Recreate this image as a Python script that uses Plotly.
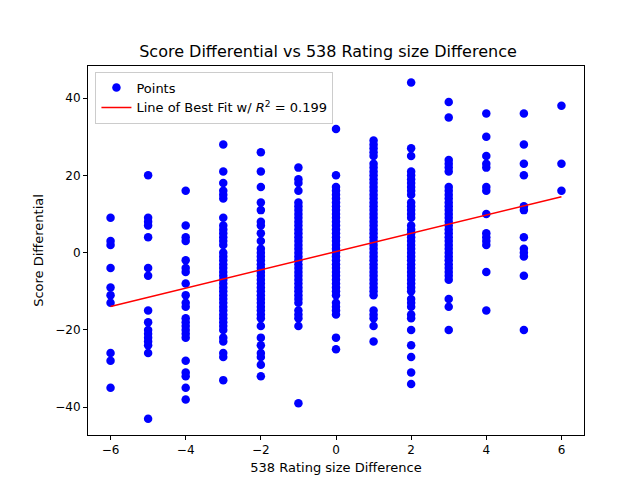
import numpy as np
import plotly.graph_objs as go

col_m6 = [9, 3, 2, -4, -9, -11, -13, -26, -28, -35]
col_m5 = [20, 9, 8, 7, 4, -4, -6, -15, -18, -20, -21, -22, -23, -24, -26, -43]
col_m4 = [16, 7, 4, 3, -2, -4, -5, -8, -11, -13, -14, -17, -18, -19, -20, -21, -22, -28, -31, -32, -35, -38]
col_m3 = [28, 21, 18, 16, 15, 14, 9, 7, 6, 5, 4, 3, 2, 0, -1, -2, -3, -4, -5, -6, -7, -8, -9, -10,
          -11, -12, -13, -14, -15, -16, -17, -18, -19, -20, -22, -23, -26, -27, -33]
col_m2 = [26, 21, 17, 13, 11, 8, 7, 5, 3, 1, 0, -1, -2, -3, -4, -5, -6, -7, -8, -9, -10, -11, -12,
          -13, -14, -15, -16, -17, -19, -22, -24, -26, -27, -29, -32]
col_m1 = [22, 19, 18, 16, 13, 12, 11, 10, 9, 8, 7, 6, 5, 4, 3, 2, 1, 0, -1, -2, -3, -4, -5, -6, -7,
          -8, -9, -10, -11, -12, -13, -15, -16, -17, -19, -39]
col_0 = [32, 20, 17, 16, 15, 14, 13, 12, 11, 10, 9, 8, 7, 6, 5, 4, 3, 2, 1, 0, -1, -2, -3, -4, -5,
         -6, -7, -8, -9, -10, -11, -13, -14, -15, -16, -22, -25]
col_1 = [29, 28, 27, 26, 25, 23, 22, 21, 20, 19, 18, 17, 16, 15, 14, 13, 12, 11, 10, 9, 8, 7, 6, 5,
         4, 3, 2, 1, 0, -1, -2, -3, -4, -5, -6, -7, -8, -9, -10, -11, -15, -16, -17, -19, -23]
col_2 = [44, 27, 25, 21, 20, 19, 18, 17, 16, 15, 13, 12, 11, 10, 9, 7, 6, 5, 4, 3, 2, 1, 0, -1, -2,
         -3, -4, -5, -6, -7, -8, -9, -10, -12, -13, -14, -16, -17, -20, -24, -27, -31, -34]
col_3 = [39, 35, 24, 23, 22, 21, 17, 16, 15, 14, 13, 12, 11, 10, 9, 8, 7, 6, 5, 4, 3, 2, 1, 0, -1,
         -2, -3, -4, -5, -6, -7, -12, -14, -20]
col_4 = [36, 30, 25, 23, 22, 17, 16, 10, 5, 4, 3, 2, -5, -15]
col_5 = [36, 28, 23, 20, 12, 11, 4, 1, 0, -1, -6, -20]
col_6 = [38, 23, 16]

columns = [col_m6, col_m5, col_m4, col_m3, col_m2, col_m1, col_0, col_1, col_2, col_3, col_4, col_5, col_6]
rating_diff = [-6, -5, -4, -3, -2, -1, 0, 1, 2, 3, 4, 5, 6]

xs, ys = [], []
for r, col in zip(rating_diff, columns):
    xs += [r] * len(col)
    ys += col

slope, intercept = np.polyfit(xs, ys, 1)
fit_x = [min(xs), max(xs)]
fit_y = [slope * v + intercept for v in fit_x]

graph_data = [
    go.Scatter(name='Points', x=xs, y=ys, mode='markers',
               marker=dict(color='blue', size=8.5, line=dict(width=0))),
    go.Scatter(name='Line of Best Fit w/ <i>R</i><sup>2</sup> = 0.199', x=fit_x, y=fit_y,
               mode='lines', line=dict(color='red', width=1.5)),
]

axis_common = dict(showgrid=False, zeroline=False, showline=True, mirror=True,
                   linecolor='black', linewidth=1, ticks='outside', ticklen=4,
                   tickcolor='black', tickfont=dict(size=12), automargin=False)

layout = go.Layout(
    width=640, height=480,
    font=dict(family='DejaVu Sans', size=12, color='black'),
    title=dict(text='Score Differential vs 538 Rating size Difference',
               x=0.5, xanchor='center', y=0.91, yanchor='middle', font=dict(size=16)),
    margin=dict(l=80, r=64, t=58, b=53, autoexpand=False),
    plot_bgcolor='white', paper_bgcolor='white',
    xaxis=dict(title=dict(text='538 Rating size Difference', standoff=6, font=dict(size=13)),
               range=[-6.6, 6.6], tickvals=[-6, -4, -2, 0, 2, 4, 6], **axis_common),
    yaxis=dict(title=dict(text='Score Differential', standoff=8, font=dict(size=13)),
               range=[-47.2, 48.3], tickvals=[-40, -20, 0, 20, 40], **axis_common),
    legend=dict(x=0.015, y=0.985, xanchor='left', yanchor='top',
                bordercolor='#cccccc', borderwidth=1, bgcolor='rgba(255,255,255,0.8)',
                font=dict(size=13)),
    showlegend=True,
)

fig = go.Figure(data=graph_data, layout=layout)
fig.write_html("out.html")
